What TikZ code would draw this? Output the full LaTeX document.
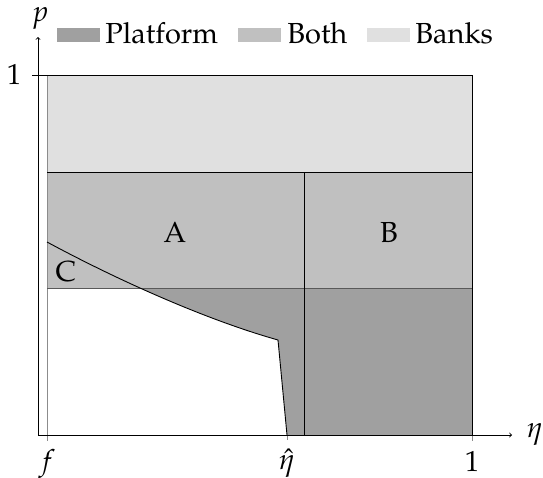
\documentclass[tikz,border=0pt]{standalone}
\usepackage[T1]{fontenc}
\usepackage{mathpazo}
\definecolor{plat}{HTML}{A0A0A0}
\definecolor{both}{HTML}{C0C0C0}
\definecolor{banks}{HTML}{E0E0E0}
\definecolor{gline}{HTML}{8C8C8C}
\begin{document}
\begin{tikzpicture}[x=1pt,y=-1pt,font=\fontsize{29}{33}\selectfont,line width=0.9pt,
  swatch/.style={rectangle,inner sep=0pt,minimum width=43pt,minimum height=14pt,anchor=south west},
  legtext/.style={anchor=base west,inner sep=0pt},
  lbl/.style={inner sep=0pt,anchor=base}]
\useasboundingbox (0,0) rectangle (543,477);
% regions
\fill[plat] (47,288) rectangle (472,435);
\fill[both] (47,172) rectangle (472,288);
\fill[banks] (47,75) rectangle (472,172);
\begin{scope}
\clip (47,288) rectangle (300,435);
\fill[white] (47,242) .. controls (110,276) and (200,318) .. (278,340) -- (287,435) -- (47,435) -- cycle;
\end{scope}
% coordinates
\coordinate (O) at (38,435);
\coordinate (xend) at (512,435);
\coordinate (yend) at (38,37);
\coordinate (c0) at (47,242);
\coordinate (c1) at (278,340);
\coordinate (c2) at (287,435);
% boundaries
\draw[gline] (47,75) -- (47,441);
\draw[gline] (287,435) -- (287,440);
\draw[gline] (472,435) -- (472,441);
\draw[black!65] (47,288) -- (472,288);
\draw (47,172) -- (472,172);
\draw (304,172) -- (304,435);
\draw (c0) .. controls (110,276) and (200,318) .. (c1) -- (c2);
\draw (32,75) -- (472,75) -- (472,435);
% axes
\draw[->] (O) -- (xend);
\draw[->] (O) -- (yend);
% labels
\node[lbl] (lp) at (40,21) {$p$};
\node[lbl] (l1y) at (14,84) {1};
\node[lbl] (lf) at (47,470) {$f$};
\node[lbl] (leh) at (287,469) {$\hat{\eta}$};
\node[lbl] (l1x) at (472,471) {1};
\node[lbl] (leta) at (535,437) {$\eta$};
\node[lbl] (lA) at (175,242) {A};
\node[lbl] (lB) at (389,242) {B};
\node[lbl] (lC) at (66,281) {C};
% legend
\node[swatch,fill=plat] (swP) at (57,42) {};
\node[legtext] (tP) at (105,43) {Platform};
\node[swatch,fill=both] (swB) at (238,42) {};
\node[legtext] (tB) at (287,43) {Both};
\node[swatch,fill=banks] (swK) at (367,42) {};
\node[legtext] (tK) at (415,43) {Banks};
\end{tikzpicture}
\end{document}
